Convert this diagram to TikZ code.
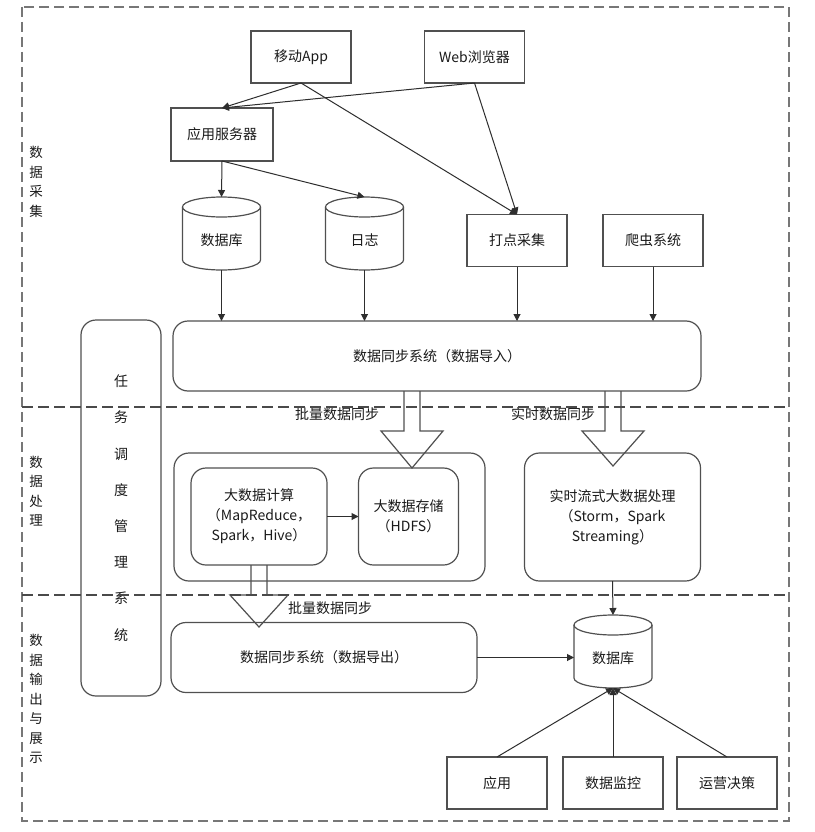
\documentclass[tikz,border=0pt]{standalone}
\usepackage{fontspec}
\setmainfont{Noto Sans CJK SC}
\usetikzlibrary{arrows.meta,calc}
\definecolor{boxc}{HTML}{505050}
\definecolor{linec}{HTML}{2E2E2E}
\definecolor{dashc}{HTML}{777777}
\definecolor{sepc}{HTML}{4A4A4A}
\definecolor{txtc}{HTML}{1A1A1A}
\newcommand\mycyl[1]{%
  \draw[boxline] ([yshift=-10pt]#1.north west) -- ([yshift=10pt]#1.south west)
    arc[start angle=180,end angle=360,x radius=39pt,y radius=10pt]
    -- ([yshift=-10pt]#1.north east)
    arc[start angle=0,end angle=180,x radius=39pt,y radius=10pt] -- cycle;
  \draw[boxline] ([yshift=-10pt]#1.north west)
    arc[start angle=180,end angle=360,x radius=39pt,y radius=10pt];}
\newcommand\hollowarrow[4]{%
  \draw[hollow] ([xshift=-8pt]#1) -- ++(0,-#2) -- ++(8-#4,0) -- ++(#4,-#3)
    -- ++(#4,#3) -- ++(8-#4,0) -- ++(0,#2);}
\begin{document}
\begin{tikzpicture}[x=1pt,y=1pt,
  txt/.style={text=txtc,font=\fontsize{14}{20}\selectfont},
  boxline/.style={draw=boxc,line width=1.2pt},
  box/.style={txt,boxline,minimum width=100,minimum height=52,inner sep=2pt,outer sep=0pt,align=center},
  rbox/.style={box,rounded corners=15pt},
  cyl/.style={txt,minimum width=78,minimum height=73,inner sep=0pt,outer sep=0pt,text height=23pt,text depth=0pt},
  lbl/.style={txt,inner sep=1pt},
  side/.style={text=txtc,font=\fontsize{13.5}{19.5}\selectfont,align=center,inner sep=0pt},
  arr/.style={draw=linec,line width=1pt,-{Triangle[length=7pt,width=7pt]}},
  hollow/.style={draw=boxc,line width=1.2pt,line join=miter},
  dashb/.style={draw=dashc,line width=1.8pt,dash pattern=on 10pt off 5pt},
  dashsep/.style={draw=sepc,line width=2pt,dash pattern=on 11pt off 5pt}]
\useasboundingbox (0,0) rectangle (814,-832);
\fill[white] (0,0) rectangle (814,-832);

% collection layer
\node[box] (app) at (301,-57) {移动App};
\node[box] (web) at (474.5,-57) {Web浏览器};
\node[box,minimum width=102,minimum height=53] (srv) at (222,-134.5) {应用服务器};
\node[cyl] (db1) at (221.5,-233.5) {数据库};
\node[cyl] (log) at (364.5,-233.5) {日志};
\mycyl{db1}
\mycyl{log}
\node[box] (dd) at (517,-240.5) {打点采集};
\node[box] (pc) at (653,-240.5) {爬虫系统};
\node[rbox,minimum width=528,minimum height=70] (imp) at (437,-356) {数据同步系统（数据导入）};

% task scheduler
\node[rbox,minimum width=80,minimum height=376,font=\fontsize{14}{36.2}\selectfont] (task) at (121,-508)
  {任\\务\\调\\度\\管\\理\\系\\统};

% processing layer
\node[rbox,minimum width=311,minimum height=128] (proc) at (329.5,-517) {};
\node[rbox,minimum width=136,minimum height=97] (calc) at (259,-516.5) {大数据计算\\（MapReduce，\\Spark，Hive）};
\node[rbox,minimum width=100,minimum height=97] (store) at (408.5,-516.5) {大数据存储\\（HDFS）};
\node[rbox,minimum width=176,minimum height=128] (rt) at (612.5,-517) {实时流式大数据处理\\（Storm，Spark\\Streaming）};

% output layer
\node[rbox,minimum width=306,minimum height=70] (exp) at (324,-657.5) {数据同步系统（数据导出）};
\node[cyl,minimum width=78] (db3) at (613,-651.5) {数据库};
\mycyl{db3}
\node[box] (yy) at (497,-783) {应用};
\node[box] (jk) at (613,-783) {数据监控};
\node[box] (yj) at (727,-783) {运营决策};

% labels
\node[lbl] (l1) at (337,-414) {批量数据同步};
\node[lbl] (l2) at (553,-414) {实时数据同步};
\node[lbl] (l3) at (330,-608) {批量数据同步};
\node[side] (s1) at (36,-182) {数\\据\\采\\集};
\node[side] (s2) at (36,-491) {数\\据\\处\\理};
\node[side] (s3) at (36,-699) {数\\据\\输\\出\\与\\展\\示};

% connectors
\draw[arr] (app.south) -- (srv.north);
\draw[arr] (web.south) -- (srv.north);
\draw[arr] (app.south) -- (dd.north);
\draw[arr] (web.south) -- (dd.north);
\draw[arr] (srv.south) -- (db1.north);
\draw[arr] (srv.south) -- (log.north);
\draw[arr] (db1.south) -- (db1.south |- imp.north);
\draw[arr] (log.south) -- (log.south |- imp.north);
\draw[arr] (dd.south) -- (dd.south |- imp.north);
\draw[arr] (pc.south) -- (pc.south |- imp.north);
\draw[arr] (calc.east) -- (store.west);
\draw[arr] (rt.south) -- (db3.north);
\draw[arr] (exp.east) -- (exp.east -| db3.west);
\draw[arr] (yy.north) -- (db3.south);
\draw[arr] (jk.north) -- (db3.south);
\draw[arr] (yj.north) -- (db3.south);

% hollow arrows
\coordinate (h1) at ([xshift=-25pt]imp.south);
\coordinate (h2) at ([xshift=176pt]imp.south);
\coordinate (h3) at (calc.south);
\hollowarrow{h1}{40}{37}{31}
\hollowarrow{h2}{40}{35}{31}
\hollowarrow{h3}{30}{32}{29}

% region borders
\draw[dashb] (22,-7) rectangle (789,-821);
\draw[dashsep] (22,-407) -- (789,-407);
\draw[dashsep] (22,-595) -- (789,-595);
\end{tikzpicture}
\end{document}
